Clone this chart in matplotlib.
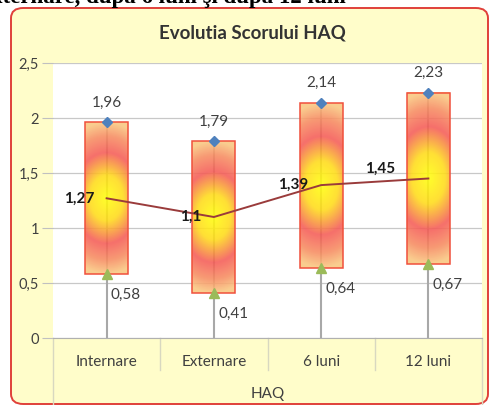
import numpy as np
import matplotlib
matplotlib.use('Agg')
import matplotlib.pyplot as plt
from matplotlib.patches import FancyBboxPatch, Rectangle
from matplotlib.colors import LinearSegmentedColormap
from matplotlib.ticker import FuncFormatter

# date HAQ
categories = ['Internare', 'Externare', '6 luni', '12 luni']
val_max = [1.96, 1.79, 2.14, 2.23]
val_min = [0.58, 0.41, 0.64, 0.67]
val_mean = [1.27, 1.1, 1.39, 1.45]
group_label = 'HAQ'
title = 'Evolutia Scorului HAQ'
yticks = [0, 0.5, 1, 1.5, 2, 2.5]

W, H = 491, 405
fig = plt.figure(figsize=(W / 100, H / 100), dpi=100)
fig.patch.set_facecolor('white')


def fx(px):
    return px / W


def fy(py):
    return 1 - py / H


# text cut at the top of the picture (from the page above the chart)
fig.text(fx(346), fy(3), 'la internare, la externare, după 6 luni şi după 12 luni', ha='right',
         va='baseline', fontsize=16.5, fontweight='bold', family='Liberation Serif', color='black')

# chart area background with red rounded border
bg = FancyBboxPatch((fx(11), fy(404)), fx(477), (404 - 8) / H,
                    boxstyle='round,pad=0,rounding_size=0.025', transform=fig.transFigure,
                    facecolor='#FFFDCA', edgecolor='#E0403A', linewidth=1.4, zorder=-5)
fig.patches.append(bg)

fig.text(fx(252), fy(33), title, ha='center', va='center', fontsize=13.5,
         fontweight='bold', family='Lato', color='#333333')

ax = fig.add_axes([fx(53), 1 - 338 / H, fx(482 - 53), 275 / H])
ax.set_facecolor('white')
ax.set_xlim(-0.5, 3.5)
ax.set_ylim(0, 2.5)

for s in ['top', 'right', 'left']:
    ax.spines[s].set_visible(False)
ax.spines['bottom'].set_color('#B0B0B0')

ax.set_yticks(yticks)
ax.yaxis.set_major_formatter(FuncFormatter(lambda v, p: ('%g' % v).replace('.', ',')))
ax.tick_params(axis='y', length=8, color='#C0C0C0', labelsize=10.5, labelcolor='#404040', pad=2)
for lab in ax.get_yticklabels():
    lab.set_family('Lato')
ax.grid(axis='y', color='#C8C8C8', linewidth=0.9, zorder=0)
ax.set_axisbelow(True)

x = np.arange(len(categories))
ax.set_xticks(x)
ax.set_xticklabels(categories, family='Lato', fontsize=11, color='#404040')
ax.tick_params(axis='x', length=0, pad=12)

# multi-level category separators
sep_x = np.arange(len(categories) + 1) - 0.5
for i, sx in enumerate(sep_x):
    low = -67 / 275 if i in (0, len(sep_x) - 1) else -32 / 275
    ax.plot([sx, sx], [0, low], transform=ax.get_xaxis_transform(), color='#D8D8C0',
            lw=1, clip_on=False)
ax.text(1.5, -56 / 275, group_label, transform=ax.get_xaxis_transform(), ha='center',
        va='center', family='Lato', fontsize=11, color='#404040')

# gradient for the bars (yellow centre, red ring, light orange edge)
cmap = LinearSegmentedColormap.from_list('haq', [
    (0.0, (1.0, 1.0, 0.05)),
    (0.3, (1.0, 0.86, 0.1)),
    (0.6, (0.96, 0.36, 0.34)),
    (0.82, (0.97, 0.55, 0.38)),
    (1.0, (0.98, 0.78, 0.5))])
u = np.linspace(-1, 1, 41)
v = np.linspace(-1, 1, 201)
U, V = np.meshgrid(u, v)
D = np.clip(np.sqrt((0.38 * U) ** 2 + V ** 2), 0, 1)

bw = 0.4
for i in range(len(categories)):
    # gray line from 0 to max (seen through the bar)
    ax.plot([x[i], x[i]], [0, val_max[i]], color='#A8A8A8', lw=1.5, zorder=1)
    ax.imshow(D, cmap=cmap, extent=[x[i] - bw / 2, x[i] + bw / 2, val_min[i], val_max[i]],
              aspect='auto', alpha=0.88, zorder=2, vmin=0, vmax=1)
    ax.add_patch(Rectangle((x[i] - bw / 2, val_min[i]), bw, val_max[i] - val_min[i],
                           fill=False, edgecolor='#F0503C', lw=1.1, zorder=3))

ax.set_xlim(-0.5, 3.5)
ax.set_ylim(0, 2.5)

ax.plot(x, val_mean, color='#9A3B3B', lw=1.4, zorder=4)
ax.plot(x, val_max, 'D', color='#4F81BD', markersize=5, zorder=5, linestyle='none')
ax.plot(x, val_min, '^', color='#9BBB59', markersize=6.5, zorder=5, linestyle='none')

fmt = lambda v: ('%g' % v).replace('.', ',')
for i in range(len(categories)):
    ax.annotate(fmt(val_max[i]), (x[i], val_max[i]), xytext=(0, 14), textcoords='offset points',
                ha='center', va='center', family='Lato', fontsize=11, color='#404040', zorder=6)
    ax.annotate(fmt(val_min[i]), (x[i], val_min[i]), xytext=(3, -15), textcoords='offset points',
                ha='left', va='center', family='Lato', fontsize=11, color='#404040', zorder=6)
    off = (-9, 0) if i < 3 else (-24, 7)
    ax.annotate(fmt(val_mean[i]), (x[i], val_mean[i]), xytext=off, textcoords='offset points',
                ha='right', va='center', family='Lato', fontsize=11, fontweight='bold',
                color='#1A1A1A', zorder=6)

fig.savefig('out.png', dpi=100)
